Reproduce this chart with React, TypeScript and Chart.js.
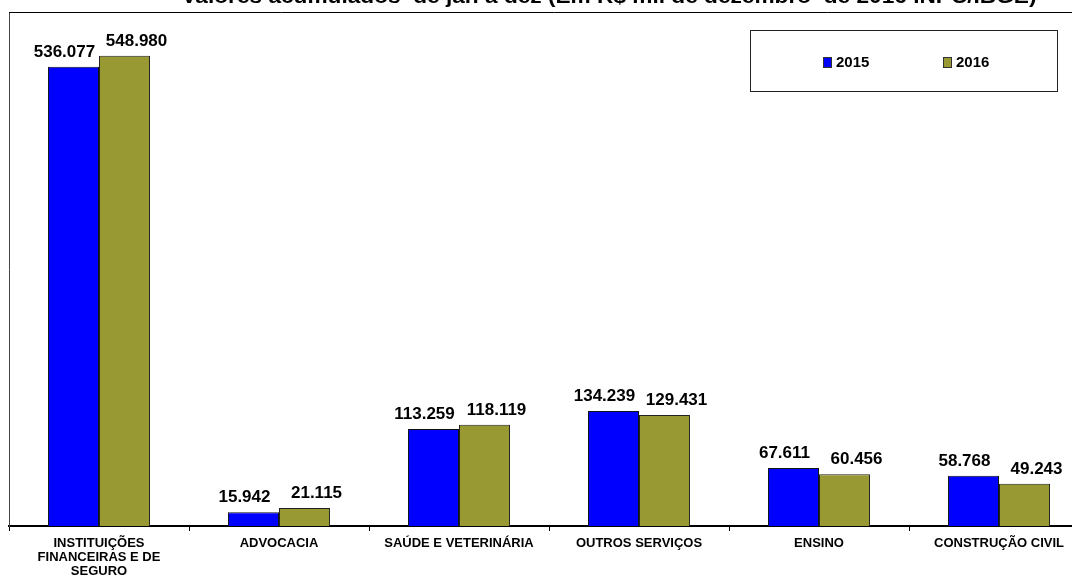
import React, { useEffect, useRef } from "react";
import { Chart, registerables } from "chart.js";

Chart.register(...registerables);

const TITLE = "Valores acumulados  de jan a dez (Em R$ mil de dezembro  de 2016 INPC/IBGE)";
const CATEGORIES: (string | string[])[] = [
  ["INSTITUIÇÕES", "FINANCEIRAS E DE", "SEGURO"],
  "ADVOCACIA",
  "SAÚDE E VETERINÁRIA",
  "OUTROS SERVIÇOS",
  "ENSINO",
  "CONSTRUÇÃO CIVIL",
];
const SERIES_NAMES = ["2015", "2016"];
const VALUES_2015 = [536077, 15942, 113259, 134239, 67611, 58768];
const VALUES_2016 = [548980, 21115, 118119, 129431, 60456, 49243];
const COLORS = ["#0000FF", "#999933"];
const Y_MAX = 600000;

const FONT = "Arial, 'Liberation Sans', sans-serif";
const fmt = (v: number) => v.toString().replace(/\B(?=(\d{3})+(?!\d))/g, ".");

const decorPlugin = {
  id: "decor",
  afterDraw(chart: any) {
    const ctx = chart.ctx;
    const area = chart.chartArea;
    ctx.save();
    // title (partially clipped at top)
    ctx.fillStyle = "#000";
    ctx.font = `bold 20px ${FONT}`;
    ctx.textAlign = "center";
    ctx.textBaseline = "alphabetic";
    const tw = ctx.measureText(TITLE).width;
    ctx.save();
    ctx.translate(609, 3);
    ctx.scale(855 / tw, 1);
    ctx.fillText(TITLE, 0, 0);
    ctx.restore();
    // top frame line
    ctx.strokeStyle = "#000";
    ctx.lineWidth = 1;
    ctx.beginPath();
    ctx.moveTo(area.left, 12.5);
    ctx.lineTo(chart.width, 12.5);
    ctx.stroke();
    // legend box
    ctx.strokeStyle = "#222";
    ctx.strokeRect(750.5, 30.5, 307, 61);
    const legendX = [823, 943];
    ctx.font = `bold 15px ${FONT}`;
    ctx.textAlign = "left";
    ctx.textBaseline = "middle";
    chart.data.datasets.forEach((ds: any, i: number) => {
      const x = legendX[i];
      ctx.fillStyle = ds.backgroundColor;
      ctx.fillRect(x, 57, 8, 10);
      ctx.strokeStyle = "#333";
      ctx.strokeRect(x + 0.5, 57.5, 8, 10);
      ctx.fillStyle = "#000";
      ctx.fillText(ds.label, x + 13, 63);
    });
    // data labels
    ctx.font = `bold 17px ${FONT}`;
    ctx.textAlign = "center";
    ctx.textBaseline = "alphabetic";
    const offs = [-9, 12];
    chart.data.datasets.forEach((ds: any, i: number) => {
      const meta = chart.getDatasetMeta(i);
      meta.data.forEach((bar: any, j: number) => {
        ctx.fillText(fmt(ds.data[j]), bar.x + offs[i], bar.y - 10);
      });
    });
    ctx.restore();
  },
};

export default function App() {
  const ref = useRef<HTMLCanvasElement>(null);
  useEffect(() => {
    if (!ref.current) return;
    const chart = new Chart(ref.current, {
      type: "bar",
      data: {
        labels: CATEGORIES,
        datasets: [
          {
            label: SERIES_NAMES[0],
            data: VALUES_2015,
            backgroundColor: COLORS[0],
            borderColor: "#111",
            borderWidth: 1,
            categoryPercentage: 0.567,
            barPercentage: 1,
          },
          {
            label: SERIES_NAMES[1],
            data: VALUES_2016,
            backgroundColor: COLORS[1],
            borderColor: "#222",
            borderWidth: 1,
            categoryPercentage: 0.567,
            barPercentage: 1,
          },
        ],
      },
      options: {
        responsive: false,
        maintainAspectRatio: false,
        animation: false,
        devicePixelRatio: 1,
        layout: { padding: { left: 9, top: 12, right: 11, bottom: 0 } },
        plugins: {
          legend: { display: false },
          title: { display: false },
          tooltip: { enabled: false },
        },
        scales: {
          x: {
            grid: {
              offset: true,
              drawOnChartArea: false,
              drawTicks: true,
              tickLength: 5,
              color: "#000",
            },
            border: { display: true, color: "#000", width: 2 },
            ticks: {
              color: "#000",
              font: { family: FONT, size: 13, weight: "bold", lineHeight: 1.1 },
              maxRotation: 0,
              autoSkip: false,
              padding: 5,
            },
            afterFit: (s: any) => {
              s.height = 55;
            },
          },
          y: {
            min: 0,
            max: Y_MAX,
            grid: { display: false },
            ticks: { display: false },
            border: { display: true, color: "#444", width: 1 },
            afterFit: (s: any) => {
              s.width = 0;
            },
          },
        },
      },
      plugins: [decorPlugin],
    });
    return () => chart.destroy();
  }, []);
  return (
    <div style={{ position: "fixed", left: 0, top: 0, width: 1072, height: 581, overflow: "hidden", background: "#fff" }}>
      <canvas ref={ref} width={1100} height={581} style={{ display: "block", width: 1100, height: 581 }} />
    </div>
  );
}
